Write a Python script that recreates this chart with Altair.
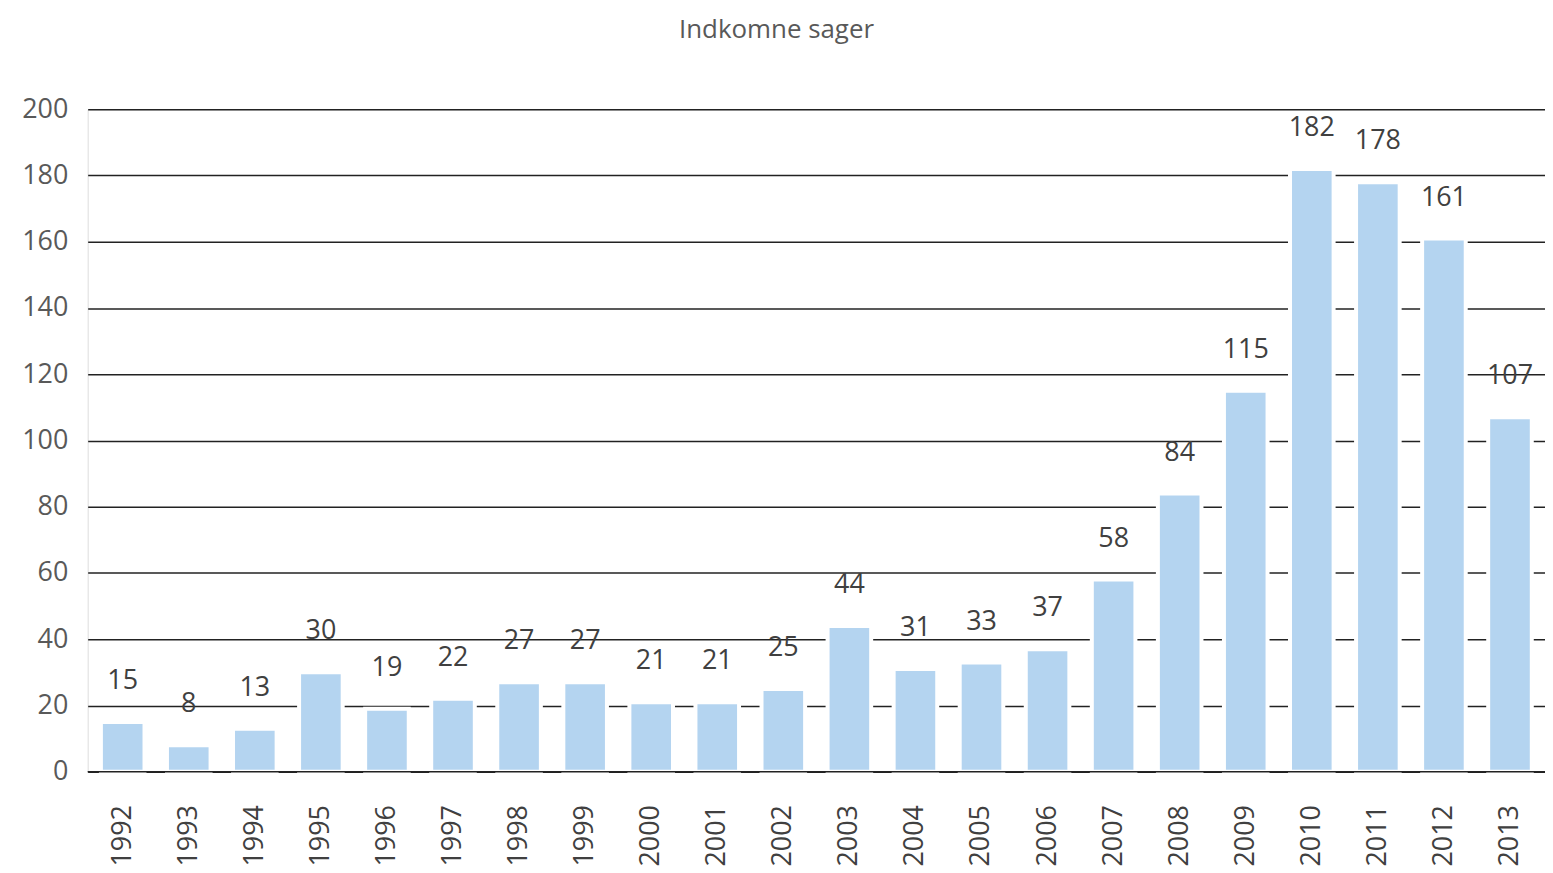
import altair as alt
import pandas as pd

years = [str(y) for y in range(1992, 2014)]
values = [15, 8, 13, 30, 19, 22, 27, 27, 21, 21, 25, 44, 31, 33, 37, 58, 84, 115, 182, 178, 161, 107]

df = pd.DataFrame({"year": years, "value": values})
zdf = pd.DataFrame({"value": [0]})

FONT = "Open Sans"

xaxis = alt.Axis(labelAngle=-90, labelFontSize=27, labelColor="#404040",
                 labelFont=FONT, ticks=False, domain=False, labelPadding=33,
                 labelAlign="right", labelBaseline="middle", grid=False)
yaxis = alt.Axis(values=list(range(0, 201, 20)), labelFontSize=27,
                 labelColor="#595959", labelFont=FONT, ticks=False,
                 domain=False, labelPadding=20, grid=True,
                 gridColor="#222222", gridWidth=1.5)
xscale = alt.Scale(paddingInner=0.34, paddingOuter=0.2)
yscale = alt.Scale(domain=[0, 200], nice=False)

x = alt.X("year:N", sort=years, title=None, scale=xscale, axis=xaxis)
y = alt.Y("value:Q", title=None, scale=yscale, axis=yaxis)

bars = alt.Chart(df).mark_bar(color="#B4D4F0", stroke="white", strokeWidth=4).encode(x=x, y=y)
labels = alt.Chart(df).mark_text(baseline="bottom", dy=-27, fontSize=27,
                                 color="#404040", font=FONT).encode(
    x=x, y=y, text="value:Q")
zero = alt.Chart(zdf).mark_rule(color="#222222", strokeWidth=1.5).encode(y=y)

chart = alt.layer(bars, labels, zero).properties(
    width=1463, height=665,
    title=alt.TitleParams("Indkomne sager", fontSize=26, color="#595959",
                          font=FONT, fontWeight="normal", anchor="middle",
                          offset=53, dx=-40),
    autosize=alt.AutoSizeParams(type="none"),
    padding={"left": 80, "top": 100, "right": 0, "bottom": 102},
).configure_view(
    stroke="transparent", strokeWidth=0, strokeOpacity=0
).configure_axis(domain=False, domainOpacity=0).configure_axisX(grid=False).configure(
    background="white")

chart.save("out.html", embed_options={"renderer": "svg", "actions": False})
